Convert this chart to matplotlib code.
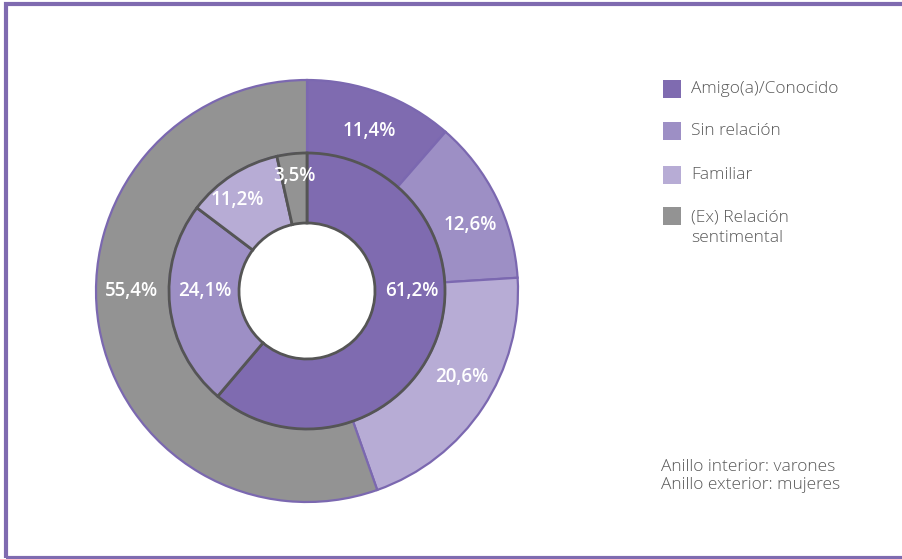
import matplotlib
matplotlib.use("Agg")
import matplotlib.pyplot as plt
import matplotlib.patches as mpatches
import numpy as np

categories = ["Amigo(a)/Conocido", "Sin relación", "Familiar", "(Ex) Relación\nsentimental"]
mujeres = [11.4, 12.6, 20.6, 55.4]   # outer ring
varones = [61.2, 24.1, 11.2, 3.5]    # inner ring
colors = ["#7f6bb0", "#9d8fc5", "#b7acd5", "#939393"]
note = "Anillo interior: varones\nAnillo exterior: mujeres"

# label placement (angle in degrees, radius in px) per wedge
outer_label_pos = [(68.9, 172), (22.0, 176), (-29.0, 177), (180.0, 175)]
inner_label_pos = [(0.0, 105), (180.0, 102), (127.6, 115), (96.4, 116)]

W, H = 903, 559
fig = plt.figure(figsize=(W / 100, H / 100), dpi=100)
FONT = ["Open Sans", "DejaVu Sans"]

# frame (right side runs off the canvas)
fig.patches.append(mpatches.Rectangle((5.5 / W, 1.5 / H), (W + 10) / W, (H - 5.5) / H,
                                      transform=fig.transFigure, fill=False,
                                      edgecolor="#7f6bb0", linewidth=3.0, zorder=0))

cx, cy = 307, 291
half = 230
ax = fig.add_axes([(cx - half) / W, (H - cy - half) / H, 2 * half / W, 2 * half / H])
ax.axis("off")

R_out, R_mid, R_in = 211, 138, 68

ax.pie(mujeres, radius=R_out, colors=colors, startangle=90, counterclock=False,
       wedgeprops=dict(width=R_out - R_mid, edgecolor="#7b68b0", linewidth=1.6))
ax.pie(varones, radius=R_mid, colors=colors, startangle=90, counterclock=False,
       wedgeprops=dict(width=R_mid - R_in, edgecolor="#555555", linewidth=2.0))
ax.set_xlim(-half, half)
ax.set_ylim(-half, half)
ax.set_aspect("equal")


def fmt(v):
    return f"{v:.1f}%".replace(".", ",")


def labels(vals, pos):
    for v, (ang, r) in zip(vals, pos):
        a = np.deg2rad(ang)
        ax.text(r * np.cos(a), r * np.sin(a), fmt(v), color="white",
                fontsize=13.5, fontweight="semibold", family=FONT,
                ha="center", va="center")


labels(mujeres, outer_label_pos)
labels(varones, inner_label_pos)

# legend
ly = [89, 131, 175, 216]
for c, lab, y in zip(colors, categories, ly):
    fig.patches.append(mpatches.Rectangle((663 / W, (H - y - 9) / H), 18 / W, 18 / H,
                                          transform=fig.transFigure, facecolor=c,
                                          edgecolor="none"))
    if "\n" in lab:
        fig.text(691 / W, (H - y + 7) / H, lab, color="#5a5a5a", fontsize=12.5,
                 family=FONT, fontweight="light", ha="left", va="top", linespacing=1.4)
    else:
        fig.text(691 / W, (H - y) / H, lab, color="#5a5a5a", fontsize=12.5,
                 family=FONT, fontweight="light", ha="left", va="center")

fig.text(661 / W, (H - 459) / H, note, color="#5a5a5a", fontsize=12.5,
         family=FONT, fontweight="light", ha="left", va="top", linespacing=1.18)

fig.savefig("out.png", dpi=100)
